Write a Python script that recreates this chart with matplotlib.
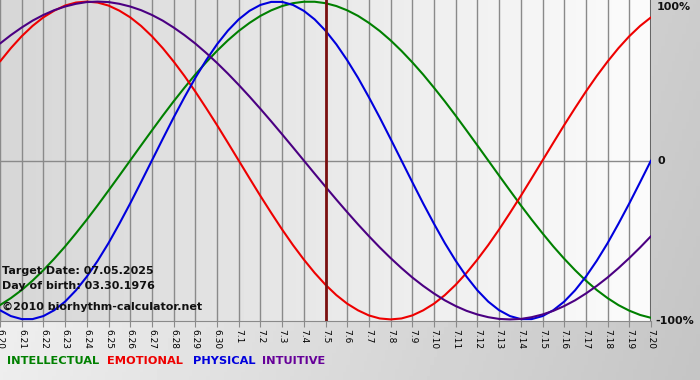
import numpy as np
import matplotlib
matplotlib.use("Agg")
import matplotlib.pyplot as plt

days = ["6.20", "6.21", "6.22", "6.23", "6.24", "6.25", "6.26", "6.27", "6.28", "6.29", "6.30",
        "7.1", "7.2", "7.3", "7.4", "7.5", "7.6", "7.7", "7.8", "7.9", "7.10",
        "7.11", "7.12", "7.13", "7.14", "7.15", "7.16", "7.17", "7.18", "7.19", "7.20"]

# values read every half day, from 6.20 to 7.20
intellectual = [-0.910, -0.866, -0.815, -0.756, -0.690, -0.618, -0.541, -0.458, -0.372, -0.282, -0.189, -0.095,
                0.000, 0.095, 0.189, 0.282, 0.372, 0.458, 0.541, 0.618, 0.690, 0.756, 0.815, 0.866,
                0.910, 0.945, 0.972, 0.990, 0.999, 0.999, 0.990, 0.972, 0.945, 0.910, 0.866, 0.815,
                0.756, 0.690, 0.618, 0.541, 0.458, 0.372, 0.282, 0.189, 0.095, 0.000, -0.095, -0.189,
                -0.282, -0.372, -0.458, -0.541, -0.618, -0.690, -0.756, -0.815, -0.866, -0.910, -0.945, -0.972,
                -0.990]
emotional = [0.623, 0.707, 0.782, 0.847, 0.901, 0.943, 0.975, 0.994, 1.000, 0.994, 0.975, 0.943,
             0.901, 0.847, 0.782, 0.707, 0.623, 0.532, 0.434, 0.330, 0.223, 0.112, 0.000, -0.112,
             -0.223, -0.330, -0.434, -0.532, -0.623, -0.707, -0.782, -0.847, -0.901, -0.943, -0.975, -0.994,
             -1.000, -0.994, -0.975, -0.943, -0.901, -0.847, -0.782, -0.707, -0.623, -0.532, -0.434, -0.330,
             -0.223, -0.112, 0.000, 0.112, 0.223, 0.330, 0.434, 0.532, 0.623, 0.707, 0.782, 0.847,
             0.901]
physical = [-0.942, -0.979, -0.998, -0.998, -0.979, -0.942, -0.888, -0.817, -0.731, -0.631, -0.520, -0.398,
            -0.270, -0.136, 0.000, 0.136, 0.270, 0.398, 0.520, 0.631, 0.731, 0.817, 0.888, 0.942,
            0.979, 0.998, 0.998, 0.979, 0.942, 0.888, 0.817, 0.731, 0.631, 0.520, 0.398, 0.270,
            0.136, 0.000, -0.136, -0.270, -0.398, -0.520, -0.631, -0.731, -0.817, -0.888, -0.942, -0.979,
            -0.998, -0.998, -0.979, -0.942, -0.888, -0.817, -0.731, -0.631, -0.520, -0.398, -0.270, -0.136,
            0.000]
intuitive = [0.736, 0.789, 0.837, 0.880, 0.916, 0.946, 0.969, 0.986, 0.997, 1.000, 0.997, 0.986,
             0.969, 0.946, 0.916, 0.880, 0.837, 0.789, 0.736, 0.677, 0.614, 0.547, 0.476, 0.402,
             0.325, 0.246, 0.165, 0.083, 0.000, -0.083, -0.165, -0.246, -0.325, -0.402, -0.476, -0.547,
             -0.614, -0.677, -0.736, -0.789, -0.837, -0.880, -0.916, -0.946, -0.969, -0.986, -0.997, -1.000,
             -0.997, -0.986, -0.969, -0.946, -0.916, -0.880, -0.837, -0.789, -0.736, -0.677, -0.614, -0.547,
             -0.476]
target_day = "7.5"

W, H = 700, 380
fig = plt.figure(figsize=(7, 3.8), dpi=100)

# figure background gradient
bg = fig.add_axes([0, 0, 1, 1])
gx = np.linspace(0, 1, 200)
gy = np.linspace(0, 1, 100)
X, Y = np.meshgrid(gx, gy)
shade = 0.93 - 0.16 * X + 0.03 * Y
bg.imshow(shade, cmap="gray", vmin=0, vmax=1, extent=[0, 1, 0, 1], aspect="auto", origin="lower")
bg.axis("off")

ax = fig.add_axes([0, 1 - 321 / H, 651 / W, 321 / H])
x = np.arange(len(days))
xh = np.arange(len(physical)) * 0.5
ax.set_xlim(0, len(days) - 1)
ax.set_ylim(-1.01, 1.01)

# plot area gradient
pg = np.linspace(0.84, 0.985, 200)[None, :]
ax.imshow(pg, cmap="gray", vmin=0, vmax=1, extent=[0, len(days) - 1, -1.01, 1.01],
          aspect="auto", zorder=0)

for xi in x:
    ax.axvline(xi, color="#8a8a8a", lw=1.0, zorder=1)
ax.axvline(x[-1], color="#666666", lw=1.5, zorder=1)
ax.axhline(0, color="#8a8a8a", lw=1.0, zorder=1)

line = dict(lw=1.5, zorder=3, solid_joinstyle="round", solid_capstyle="round")
ax.plot(xh, intellectual, color="#008000", **line)
ax.plot(xh, emotional, color="#ee0000", **line)
ax.plot(xh, physical, color="#0000dd", **line)
ax.plot(xh, intuitive, color="#4b0082", **line)
ax.axvline(days.index(target_day), color="#7a1010", lw=2, zorder=4)

for s in ["top", "left", "right"]:
    ax.spines[s].set_visible(False)
ax.spines["bottom"].set_color("#8a8a8a")
ax.set_yticks([])
ax.set_xticks(x)
ax.set_xticklabels(days, rotation=-90, fontsize=6.5)
ax.tick_params(axis="x", length=4, color="#8a8a8a", pad=2)

def ftext(px, py, s, **kw):
    fig.text(px / W, 1 - py / H, s, **kw)

bold = dict(fontsize=8, fontweight="bold", color="#111111", va="center")
ftext(2, 271, "Target Date: 07.05.2025", **bold)
ftext(2, 286, "Day of birth: 03.30.1976", **bold)
ftext(2, 307, "©2010 biorhythm-calculator.net", **bold)
ftext(657, 7, "100%", **bold)
ftext(658, 161, "0", **bold)
ftext(655, 321, "-100%", **bold)

leg = dict(fontsize=8.2, fontweight="bold", va="center")
ftext(7, 361, "INTELLECTUAL", color="#008000", **leg)
ftext(107, 361, "EMOTIONAL", color="#ee0000", **leg)
ftext(193, 361, "PHYSICAL", color="#0000dd", **leg)
ftext(262, 361, "INTUITIVE", color="#660099", **leg)

fig.savefig("out.png", dpi=100)
